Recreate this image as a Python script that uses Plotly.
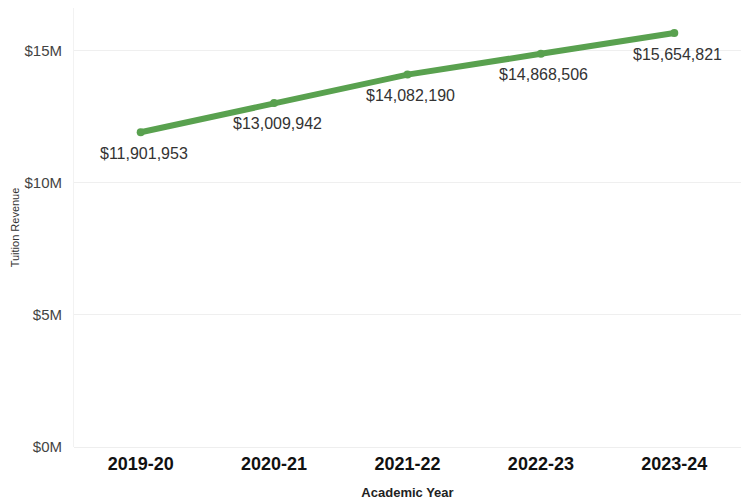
import plotly.graph_objects as go

years = ["2019-20", "2020-21", "2021-22", "2022-23", "2023-24"]
revenue = [11901953, 13009942, 14082190, 14868506, 15654821]
labels = ["$11,901,953", "$13,009,942", "$14,082,190", "$14,868,506", "$15,654,821"]
ytick_vals = [0, 5_000_000, 10_000_000, 15_000_000]
ytick_text = ["$0M", "$5M", "$10M", "$15M"]

FONT = "Liberation Sans, Arial, sans-serif"

fig = go.Figure()
fig.add_trace(go.Scatter(
    x=years, y=revenue, mode="lines+markers",
    line=dict(color="#59a14f", width=6),
    marker=dict(color="#59a14f", size=8),
    hoverinfo="skip", showlegend=False,
))
for yr, v, lab in zip(years, revenue, labels):
    fig.add_annotation(
        x=yr, y=v, text=lab, showarrow=False, yshift=-21, xshift=3,
        font=dict(family=FONT, size=16, color="#333333"),
    )

fig.update_layout(
    width=741, height=504,
    margin=dict(l=74, r=0, t=8, b=57),
    paper_bgcolor="white", plot_bgcolor="white",
    font=dict(family=FONT, color="#333333"),
    showlegend=False,
)
fig.update_xaxes(
    type="category", range=[-0.5, 4.5], showgrid=False, zeroline=False,
    showline=False, ticks="", ticklabelstandoff=4,
    tickfont=dict(size=18, color="#111111", family=FONT, weight="bold"),
    title=dict(text="<b>Academic Year</b>", font=dict(size=13, color="#222222"), standoff=14),
)
fig.update_yaxes(
    range=[0, 16_600_000], tickvals=ytick_vals, ticktext=ytick_text,
    showgrid=True, gridcolor="#efefef", gridwidth=1,
    zeroline=True, zerolinecolor="#eeeeee", zerolinewidth=1,
    showline=True, linecolor="#f2f2f2", linewidth=1,
    ticks="", ticklabelstandoff=8,
    tickfont=dict(size=15, color="#444444"),
    title=dict(text="Tuition Revenue", font=dict(size=11, color="#333333"), standoff=2),
)

fig.write_html("out.html")
